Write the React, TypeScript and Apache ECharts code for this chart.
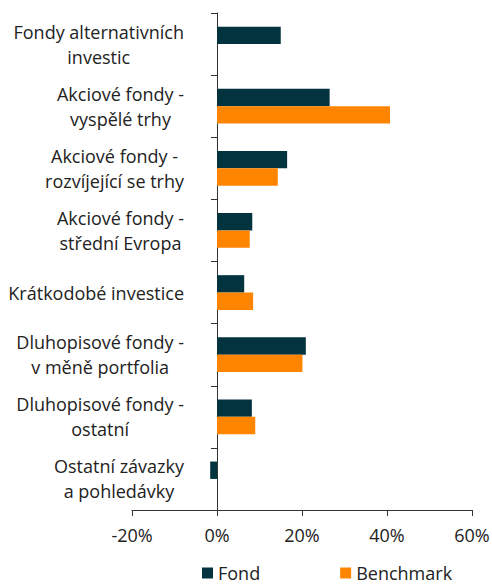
import React, { useEffect, useRef } from "react";
import * as echarts from "echarts";

const categories: string[][] = [
  ["Fondy alternativních", "investic"],
  ["Akciové fondy -", "vyspělé trhy"],
  ["Akciové fondy -", "rozvíjející se trhy"],
  ["Akciové fondy -", "střední Evropa"],
  ["Krátkodobé investice"],
  ["Dluhopisové fondy -", "v měně portfolia"],
  ["Dluhopisové fondy -", "ostatní"],
  ["Ostatní závazky", "a pohledávky"],
];
const fondValues: (number | null)[] = [15.0, 26.5, 16.5, 8.3, 6.4, 20.9, 8.2, -1.6];
const benchmarkValues: (number | null)[] = [null, 40.7, 14.3, 7.7, 8.5, 20.1, 9.0, null];
const xTicks = { min: -20, max: 60, interval: 20 };

const FONT = "'Open Sans', 'Noto Sans', sans-serif";
const GRID_LEFT = 132;
const GRID_RIGHT = 20;
const CHART_W = 492;

export default function App() {
  const ref = useRef<HTMLDivElement>(null);
  useEffect(() => {
    if (!ref.current) return;
    const chart = echarts.init(ref.current, undefined, { renderer: "svg" });
    // shift the category axis so it sits at value 0 on the x axis
    const plotW = CHART_W - GRID_LEFT - GRID_RIGHT;
    const zeroOffset = (-xTicks.min / (xTicks.max - xTicks.min)) * plotW;
    chart.setOption({
      animation: false,
      grid: { left: GRID_LEFT, right: GRID_RIGHT, top: 13, bottom: 74, containLabel: false, outerBoundsMode: "none" },
      legend: {
        top: 559,
        left: 197,
        itemWidth: 11,
        itemHeight: 11,
        itemGap: 80,
        icon: "rect",
        textStyle: { fontFamily: FONT, fontSize: 18, color: "#222" },
        data: ["Fond", "Benchmark"],
      },
      xAxis: {
        type: "value",
        min: xTicks.min,
        max: xTicks.max,
        interval: xTicks.interval,
        splitLine: { show: false },
        axisLine: { show: true, onZero: false, lineStyle: { color: "#333", width: 1 } },
        axisTick: { show: true, length: 6, lineStyle: { color: "#333" } },
        axisLabel: {
          formatter: "{value}%",
          fontFamily: FONT,
          fontSize: 18,
          color: "#222",
          margin: 16,
        },
      },
      yAxis: {
        type: "category",
        inverse: true,
        offset: -zeroOffset,
        data: categories.map((c) => c.join("\n")),
        axisLine: { show: true, onZero: false, lineStyle: { color: "#333", width: 1 } },
        axisTick: { show: true, length: 6, lineStyle: { color: "#333" } },
        axisLabel: {
          margin: 33,
          fontFamily: FONT,
          fontSize: 18,
          color: "#222",
          lineHeight: 25,
          formatter: (v: string) =>
            v
              .split("\n")
              .map((l) => "{c|" + l + "}")
              .join("\n"),
          rich: {
            c: { align: "center", fontFamily: FONT, fontSize: 18, color: "#222", lineHeight: 25 },
          },
        },
      },
      series: [
        {
          name: "Fond",
          type: "bar",
          data: fondValues,
          itemStyle: { color: "#02333f" },
          barGap: "0%",
          barCategoryGap: "44%",
        },
        {
          name: "Benchmark",
          type: "bar",
          data: benchmarkValues,
          itemStyle: { color: "#ff8400" },
          barGap: "0%",
          barCategoryGap: "44%",
        },
      ],
    });
    return () => chart.dispose();
  }, []);
  return <div ref={ref} style={{ width: 492, height: 584, position: "absolute", left: 0, top: 0 }} />;
}
